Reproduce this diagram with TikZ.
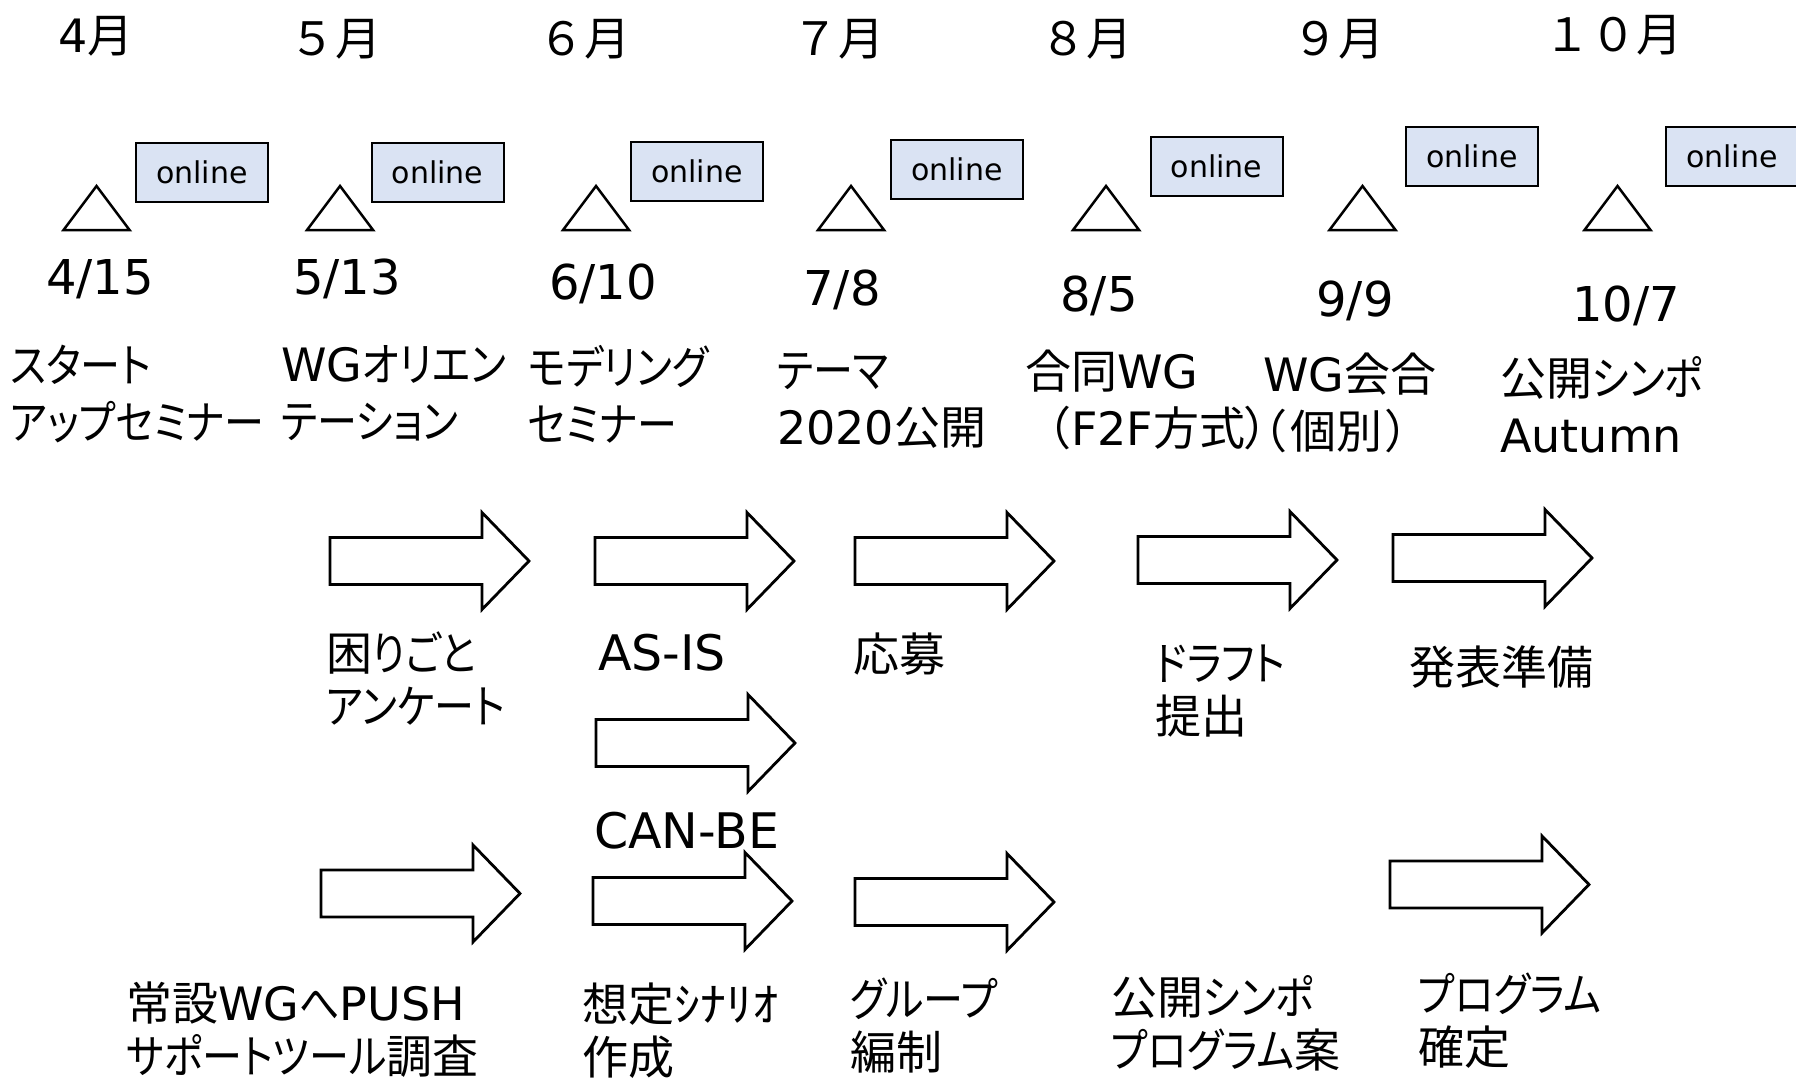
\documentclass[tikz,border=0pt]{standalone}
\usepackage{fontspec}
\setmainfont{DejaVu Sans}
\newfontfamily\kanafont[RawFeature=+palt, FakeStretch=0.87]{Noto Sans CJK JP}
\newfontfamily\kanjifont{Noto Sans CJK JP}
\newfontfamily\paltfont[RawFeature=+palt]{Noto Sans CJK JP}
\newfontfamily\hwfont[FakeStretch=1.13]{Noto Sans CJK JP}
\newcommand\kn[1]{{\kanafont #1}}
\newcommand\kj[1]{{\kanjifont #1}}
\newcommand\kp[1]{{\paltfont #1}}
\newcommand\kh[1]{{\hwfont #1}}
\definecolor{boxfill}{HTML}{DAE3F3}
\begin{document}
\begin{tikzpicture}[x=1pt,y=-1pt,
  lbl/.style={inner sep=0pt, anchor=north west, align=left, font=\fontsize{46}{57}\selectfont},
  albl/.style={inner sep=0pt, anchor=north west, align=left, font=\fontsize{46}{53}\selectfont},
  wlbl/.style={inner sep=0pt, anchor=north west, font=\fontsize{49}{53}\selectfont},
  month/.style={inner sep=0pt, font=\fontsize{46}{50}\selectfont},
  datel/.style={inner sep=0pt, font=\fontsize{48}{50}\selectfont},
  onl/.style={draw=black, line width=2pt, fill=boxfill, minimum width=132pt, minimum height=59pt, inner sep=0pt, font=\fontsize{30}{36}\selectfont},
  tri/.pic={\draw[line width=2.5pt, line join=miter] (0,0) -- (33,44) -- (-33,44) -- cycle;},
  barrow/.pic={\draw[line width=2.8pt, line join=miter] (0,-23.5) -- (152,-23.5) -- (152,-48.5) -- (199,0) -- (152,48.5) -- (152,23.5) -- (0,23.5) -- cycle;},
]
\useasboundingbox (0,0) rectangle (1796,1081);

% months
\node[month] (m4) at (96,36) {4\kj{月}};
\node[month] (m5) at (335,39) {\kj{５月}};
\node[month] (m6) at (584,39) {\kj{６月}};
\node[month] (m7) at (838,39) {\kj{７月}};
\node[month] (m8) at (1086,39) {\kj{８月}};
\node[month] (m9) at (1338,39) {\kj{９月}};
\node[month] (m10) at (1613,35) {\kj{１０月}};

% online boxes
\node[onl] (o1) at (202,172.5) {online};
\node[onl] (o2) at (437.5,172.5) {online};
\node[onl] (o3) at (697,171) {online};
\node[onl] (o4) at (957,169.5) {online};
\node[onl] (o5) at (1216.5,166) {online};
\node[onl] (o6) at (1472,156.5) {online};
\node[onl] (o7) at (1732,156.5) {online};

% triangles
\pic (t1) at (96.5,186) {tri};
\pic (t2) at (340,186) {tri};
\pic (t3) at (596,186) {tri};
\pic (t4) at (851,186) {tri};
\pic (t5) at (1106,186) {tri};
\pic (t6) at (1362.5,186) {tri};
\pic (t7) at (1617.5,186) {tri};

% dates
\node[datel] (d1) at (100,279) {4/15};
\node[datel] (d2) at (347,279) {5/13};
\node[datel] (d3) at (603,284) {6/10};
\node[datel] (d4) at (842,290) {7/8};
\node[datel] (d5) at (1099,296) {8/5};
\node[datel] (d6) at (1355,301) {9/9};
\node[datel] (d7) at (1626,306) {10/7};

% event labels
\node[lbl] (e1) at (10,345) {\kn{スタート}\\\kn{アップセミナー}};
\node[lbl] (e2) at (281,345) {WG\kn{オリエン}\\\kn{テーション}};
\node[lbl] (e3) at (528,345) {\kn{モデリング}\\\kn{セミナー}};
\node[lbl] (e4) at (777,353) {\kn{テーマ}\\2020\kj{公開}};
\node[lbl] (e5) at (1025,350) {\kj{合同}WG\\\kj{（}F2F\kj{方式}\rlap{\kp{）}}};
\node[lbl] (e6) at (1263,353) {WG\kj{会合}\\\kp{（}\hspace{4pt}\kj{個別}\hspace{4pt}\kp{）}};
\node[lbl] (e7) at (1500,356) {\kj{公開}\kn{シンポ}\\Autumn};

% block arrows
\pic (a1) at (330,561) {barrow};
\pic (a2) at (595,561) {barrow};
\pic (a3) at (855,561) {barrow};
\pic (a4) at (1138,560) {barrow};
\pic (a5) at (1393,558) {barrow};
\pic (a6) at (596,743) {barrow};
\pic (a7) at (321,893.5) {barrow};
\pic (a8) at (593,901) {barrow};
\pic (a9) at (855,902) {barrow};
\pic (a10) at (1390,884.5) {barrow};

% arrow labels
\node[albl] (l1) at (326,632) {\kj{困}\kn{りごと}\\\kn{アンケート}};
\node[wlbl] (l2) at (598,634) {AS-IS};
\node[albl] (l3) at (853,633) {\kj{応募}};
\node[albl] (l4) at (1155,645) {\kn{ドラフト}\\\kj{提出}};
\node[albl] (l5) at (1409,645) {\kj{発表準備}};
\node[wlbl] (l6) at (594,812) {CAN-BE};
\node[albl] (l7) at (126,982) {\kj{常設}WG\kn{へ}PUSH\\\kn{サポートツール}\kj{調査}};
\node[albl] (l8) at (582,983) {\kj{想定}\kh{ｼﾅﾘｵ}\\\kj{作成}};
\node[albl] (l9) at (850,978) {\kn{グループ}\\\kj{編制}};
\node[albl] (l10) at (1111,975) {\kj{公開}\kn{シンポ}\\\kn{プログラム}\kj{案}};
\node[albl] (l11) at (1418,973) {\kn{プログラム}\\\kj{確定}};
\end{tikzpicture}
\end{document}
